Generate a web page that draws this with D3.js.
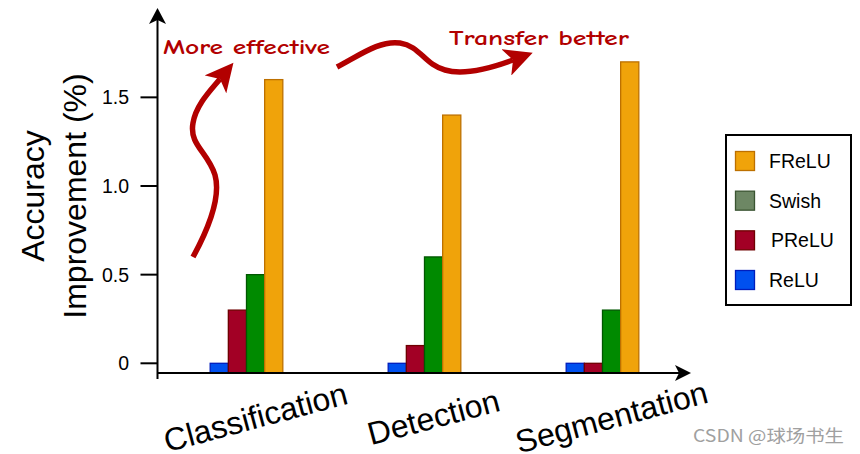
<!DOCTYPE html>
<html>
<head>
<meta charset="utf-8">
<script src="https://cdn.jsdelivr.net/npm/d3@7"></script>
<style>
  body { margin: 0; background: #fff; }
  text { font-family: 'Liberation Sans', Arial, Helvetica, sans-serif; }
</style>
</head>
<body>
<div id="chartArea"></div>
<script>
// data
const categories = ['Classification', 'Detection', 'Segmentation']
const series = ['ReLU', 'PReLU', 'Swish', 'FReLU']
const ReLU = [0, 0, 0]
const PReLU = [0.3, 0.1, 0]
const Swish = [0.5, 0.6, 0.3]
const FReLU = [1.6, 1.4, 1.7]
const yTicks = [0, 0.5, 1.0, 1.5]
const yTickLabels = ['0', '0.5', '1.0', '1.5']
const legendOrder = ['FReLU', 'Swish', 'PReLU', 'ReLU']

const values = { ReLU, PReLU, Swish, FReLU }

// colours
const barFill = { ReLU: '#0050ef', PReLU: '#a20025', Swish: '#008a00', FReLU: '#f0a30a' }
const barStroke = { ReLU: '#001dbc', PReLU: '#6f0000', Swish: '#005700', FReLU: '#bd7000' }
const legendFill = { ReLU: '#0050ef', PReLU: '#a20025', Swish: '#6d8764', FReLU: '#f0a30a' }
const legendStroke = { ReLU: '#001dbc', PReLU: '#6f0000', Swish: '#3a5431', FReLU: '#bd7000' }
const red = '#b20000'

const width = 860
const height = 454
const axisX = 157.5
const axisY = 373
const zeroY = 363.3

const svg = d3.select('#chartArea').append('svg')
  .attr('width', width).attr('height', height)

const yScale = d3.scaleLinear().domain([0, 1.7]).range([zeroY, zeroY - 177.3 * 1.7])

const xScale = d3.scaleBand().domain(categories)
  .range([axisX, axisX + 534])
  .paddingInner(0.592).paddingOuter(0.296)

const xSub = d3.scaleBand().domain(series).range([0, xScale.bandwidth()])

// bars
const groups = svg.append('g').selectAll('g')
  .data(categories).join('g')
  .attr('transform', c => `translate(${xScale(c)},0)`)

groups.selectAll('rect')
  .data((c, i) => series.map(s => ({ s, v: values[s][i] })))
  .join('rect')
  .attr('x', d => xSub(d.s))
  .attr('y', d => yScale(d.v))
  .attr('width', xSub.bandwidth())
  .attr('height', d => axisY - yScale(d.v))
  .attr('fill', d => barFill[d.s])
  .attr('stroke', d => barStroke[d.s])
  .attr('stroke-width', 1.3)

// y axis line + arrow
svg.append('line')
  .attr('x1', axisX).attr('x2', axisX)
  .attr('y1', 20).attr('y2', 379)
  .attr('stroke', '#000').attr('stroke-width', 2)
svg.append('path')
  .attr('d', `M${axisX},8 L${axisX + 8.5},24 L${axisX},20 L${axisX - 8.5},24 Z`)
  .attr('fill', '#000')

// x axis line + arrow
svg.append('line')
  .attr('x1', axisX).attr('x2', 682)
  .attr('y1', axisY).attr('y2', axisY)
  .attr('stroke', '#000').attr('stroke-width', 2)
svg.append('path')
  .attr('d', `M691,${axisY} L675,${axisY - 8} L679,${axisY} L675,${axisY + 8} Z`)
  .attr('fill', '#000')

// y ticks
svg.append('g').selectAll('line')
  .data(yTicks).join('line')
  .attr('x1', 140.5).attr('x2', axisX)
  .attr('y1', d => yScale(d)).attr('y2', d => yScale(d))
  .attr('stroke', '#000').attr('stroke-width', 2)

svg.append('g').selectAll('text')
  .data(yTicks).join('text')
  .attr('x', 129)
  .attr('y', d => yScale(d))
  .attr('dy', '0.36em')
  .attr('text-anchor', 'end')
  .attr('font-size', 19.5)
  .text((d, i) => yTickLabels[i])

// y title
const yTitle = svg.append('text')
  .attr('transform', 'translate(0,196) rotate(-90)')
  .attr('text-anchor', 'middle')
  .attr('font-size', 32)
yTitle.append('tspan').attr('x', 0).attr('y', 44).text('Accuracy')
yTitle.append('tspan').attr('x', 0).attr('y', 86).text('Improvement (%)')

// x labels
svg.append('g').selectAll('text')
  .data(categories).join('text')
  .attr('transform', c => `translate(${xScale(c) + xScale.bandwidth() / 2 + 9},417) rotate(-15)`)
  .attr('dy', '0.35em')
  .attr('text-anchor', 'middle')
  .attr('font-size', 32)
  .text(c => c)

// legend
const legend = svg.append('g')
legend.append('rect')
  .attr('x', 726).attr('y', 135)
  .attr('width', 125).attr('height', 170)
  .attr('fill', '#fff').attr('stroke', '#000').attr('stroke-width', 2)

const legendY = d3.scalePoint().domain(legendOrder).range([161, 280])

legend.selectAll('rect.sw')
  .data(legendOrder).join('rect')
  .classed('sw', true)
  .attr('x', 735.5).attr('y', d => legendY(d) - 9.5)
  .attr('width', 19).attr('height', 19)
  .attr('fill', d => legendFill[d])
  .attr('stroke', d => legendStroke[d])
  .attr('stroke-width', 1.3)

legend.selectAll('text')
  .data(legendOrder).join('text')
  .attr('x', d => d === 'PReLU' ? 771 : 769)
  .attr('y', d => legendY(d))
  .attr('dy', '0.36em')
  .attr('font-size', 19.5)
  .text(d => d)

// annotation arrows
const defs = svg.append('defs')
defs.append('marker')
  .attr('id', 'head')
  .attr('markerUnits', 'userSpaceOnUse')
  .attr('markerWidth', 30).attr('markerHeight', 28)
  .attr('viewBox', '0 0 30 28')
  .attr('refX', 7).attr('refY', 14)
  .attr('orient', 'auto')
  .append('path')
  .attr('d', 'M0,0 L28,14 L0,28 L7,14 Z')
  .attr('fill', red)

svg.append('path')
  .attr('d', 'M193,257 C205,235 222,200 215,175 C208,152 189,145 193,123 C196,105 210,91 220,79')
  .attr('fill', 'none').attr('stroke', red).attr('stroke-width', 5.5)
  .attr('marker-end', 'url(#head)')

svg.append('path')
  .attr('d', 'M337,67 C360,55 380,40 400,43 C420,46 425,65 445,70 C465,76 494,67 513,60')
  .attr('fill', 'none').attr('stroke', red).attr('stroke-width', 5.5)
  .attr('marker-end', 'url(#head)')

svg.append('text')
  .attr('x', 163).attr('y', 54)
  .style('font-family', "'Comic Sans MS', 'Comic Neue', 'DejaVu Sans', sans-serif")
  .attr('font-weight', 'bold').attr('font-size', 20)
  .attr('textLength', 167).attr('lengthAdjust', 'spacingAndGlyphs')
  .attr('fill', red)
  .text('More effective')

svg.append('text')
  .attr('x', 449).attr('y', 45)
  .style('font-family', "'Comic Sans MS', 'Comic Neue', 'DejaVu Sans', sans-serif")
  .attr('font-weight', 'bold').attr('font-size', 20)
  .attr('textLength', 180).attr('lengthAdjust', 'spacingAndGlyphs')
  .attr('fill', red)
  .text('Transfer better')

// watermark
svg.append('text')
  .attr('x', 693).attr('y', 442)
  .style('font-family', "'Noto Sans CJK SC', 'Noto Sans', sans-serif")
  .attr('font-size', 17)
  .attr('textLength', 151).attr('lengthAdjust', 'spacingAndGlyphs')
  .attr('fill', '#a0a0a0')
  .text('CSDN @球场书生')
</script>
</body>
</html>
